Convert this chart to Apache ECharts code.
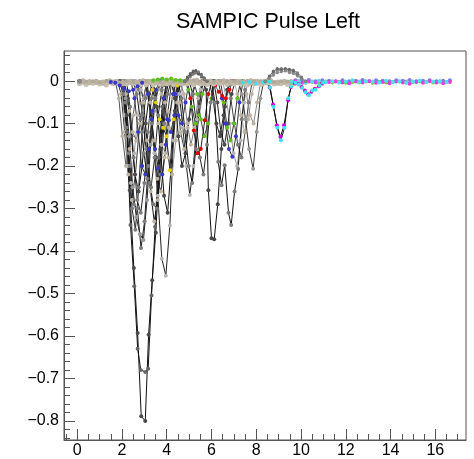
<!DOCTYPE html>
<html><head><meta charset="utf-8">
<script src="https://cdn.jsdelivr.net/npm/echarts@6/dist/echarts.min.js"></script>
<style>html,body{margin:0;padding:0;background:#fff}#c{width:474px;height:459px}</style>
</head><body><div id="c"></div>
<script>
// ---- tick labels ----
const xMajor = [0, 2, 4, 6, 8, 10, 12, 14, 16];
const xMinor = [-0.5, 0.5, 1, 1.5, 2.5, 3, 3.5, 4.5, 5, 5.5, 6.5, 7, 7.5, 8.5, 9, 9.5, 10.5, 11, 11.5, 12.5, 13, 13.5, 14.5, 15, 15.5, 16.5, 17];
const yMajor = [-0.8, -0.7, -0.6, -0.5, -0.4, -0.3, -0.2, -0.1, 0];
const yMinor = [-0.84, -0.82, -0.78, -0.76, -0.74, -0.72, -0.68, -0.66, -0.64, -0.62, -0.58, -0.56, -0.54, -0.52, -0.48, -0.46, -0.44, -0.42, -0.38, -0.36, -0.34, -0.32, -0.28, -0.26, -0.24, -0.22, -0.18, -0.16, -0.14, -0.12, -0.08, -0.06, -0.04, -0.02, 0.02, 0.04, 0.06];

// ---- baseline traces ----
const baseTa = [0.1,0.4,0.7,1.0,1.3,1.6,1.9,2.2,2.5,2.8,3.1,3.4,3.7,4.0,4.3,4.6,4.9,5.2,5.5,5.8,6.1,6.4,6.7,7.0,7.3,7.6,7.9,8.2,8.5,8.8,9.1,9.4,9.7];
const baseTb = [0.25,0.55,0.85,1.15,1.45,1.75,2.05,2.35,2.65,2.95,3.25,3.55,3.85,4.15,4.45,4.75,5.05,5.35,5.65,5.95,6.25,6.55,6.85,7.15,7.45,7.75,8.05,8.35,8.65,8.95,9.25,9.55,9.85];
const base1 = [-0.002,-0.004,-0.003,-0.005,-0.002,-0.004,-0.006,-0.003,-0.005,-0.002,-0.004,-0.003,-0.006,-0.004,-0.002,-0.005,-0.003,-0.004,-0.006,-0.002,-0.004,-0.003,-0.005,-0.004,-0.002,-0.005,-0.003,-0.004,-0.002,-0.005,-0.003,-0.004,-0.003];
const base2 = [0.001,-0.001,0.0,-0.002,0.001,-0.001,-0.003,0.0,-0.002,0.001,-0.001,0.0,-0.002,0.001,-0.001,-0.002,0.0,0.002,-0.001,0.0,-0.002,0.001,-0.001,0.0,-0.002,0.001,0.0,-0.001,0.001,-0.002,0.0,-0.001,0.0];
const base3 = [-0.006,-0.008,-0.005,-0.007,-0.009,-0.006,-0.008,-0.007,-0.005,-0.008,-0.006,-0.009,-0.007,-0.006,-0.008,-0.005,-0.007,-0.009,-0.006,-0.008,-0.007,-0.005,-0.008,-0.006,-0.007,-0.009,-0.006,-0.008,-0.005,-0.007,-0.006,-0.008,-0.006];

// ---- tail traces ----
const tailTa = [9.6,9.9,10.2,10.5,10.8,11.1,11.4,11.7,12.0,12.3,12.6,12.9,13.2,13.5,13.8,14.1,14.4,14.7,15.0,15.3,15.6,15.9,16.2,16.5];
const tailTb = [9.75,10.05,10.35,10.65,10.95,11.25,11.55,11.85,12.15,12.45,12.75,13.05,13.35,13.65,13.95,14.25,14.55,14.85,15.15,15.45,15.75,16.05,16.35,16.65];
const tailCyan = [-0.002,0.0,-0.003,-0.001,0.001,-0.002,0.0,-0.003,-0.001,0.002,-0.002,0.0,-0.001,-0.003,0.001,-0.002,0.0,-0.004,-0.001,0.001,-0.002,-0.001,0.0,-0.002];
const tailMagenta = [0.0,-0.004,-0.001,-0.003,-0.006,-0.002,0.0,-0.003,-0.005,-0.001,-0.003,0.0,-0.004,-0.002,-0.005,-0.001,-0.003,-0.006,-0.002,-0.004,0.0,-0.003,-0.005,-0.002];
const tailGreen = [-0.003,-0.002,-0.004,-0.002,-0.003,-0.001,-0.003,-0.002,-0.004,-0.002,-0.003,-0.001,-0.004,-0.002,-0.003,-0.002,-0.001,-0.003,-0.002,-0.001,-0.002,-0.003,-0.001,-0.002];
const tailBlue = [0.002,0.001,0.003,0.0,0.002,0.001,-0.001,0.002,0.0,0.001,0.003,0.0,0.002,0.001,0.0,0.002,0.001,0.003,0.0,0.001,0.002,0.0,0.001,0.002];

// ---- pulses, cluster 1 ----
const p01t = [1.90,2.06,2.22,2.35,2.53,2.70,2.86,3.04,3.19,3.35,3.51,3.67,3.83,3.99];
const p01v = [0,-0.01,-0.08,-0.257,-0.44,-0.593,-0.789,-0.80,-0.597,-0.469,-0.357,-0.20,-0.07,-0.01];
const p02t = [1.90,2.06,2.22,2.38,2.55,2.70,2.84,3.04,3.17,3.32,3.48,3.64,3.80,3.96];
const p02v = [0,-0.02,-0.12,-0.339,-0.483,-0.63,-0.68,-0.685,-0.677,-0.505,-0.343,-0.18,-0.06,-0.01];
const p03t = [1.90,2.05,2.20,2.36,2.52,2.69,2.85,3.01,3.17,3.33,3.49,3.65,3.81];
const p03v = [0,-0.03,-0.11,-0.20,-0.29,-0.30,-0.393,-0.33,-0.20,-0.10,-0.04,-0.01,0];
const p04t = [2.00,2.16,2.32,2.48,2.64,2.80,2.96,3.12,3.28,3.44,3.60,3.76];
const p04v = [0,-0.04,-0.13,-0.25,-0.32,-0.36,-0.374,-0.28,-0.15,-0.07,-0.02,0];
const p05t = [3.00,3.15,3.30,3.45,3.60,3.78,3.96,4.14,4.30,4.46,4.62];
const p05v = [0,-0.03,-0.09,-0.17,-0.27,-0.418,-0.458,-0.34,-0.14,-0.03,0];
const p06t = [2.60,2.76,2.92,3.08,3.24,3.40,3.56,3.72,3.88,4.04,4.20];
const p06v = [0,-0.02,-0.08,-0.16,-0.24,-0.29,-0.30,-0.22,-0.10,-0.03,0];
const p07t = [1.80,1.96,2.12,2.28,2.44,2.60,2.76,2.92,3.08,3.24];
const p07v = [0,-0.03,-0.12,-0.22,-0.28,-0.22,-0.12,-0.05,-0.01,0];
const p08t = [2.50,2.66,2.82,2.98,3.14,3.30,3.46,3.62,3.78,3.94];
const p08v = [0,-0.03,-0.09,-0.17,-0.23,-0.25,-0.18,-0.08,-0.02,0];
const p09t = [3.00,3.16,3.32,3.48,3.62,3.80,3.96,4.09,4.28,4.44];
const p09v = [0,-0.03,-0.09,-0.16,-0.205,-0.22,-0.15,-0.092,-0.03,0];
const p10t = [3.20,3.36,3.52,3.68,3.84,3.99,4.14,4.30,4.46];
const p10v = [0,-0.02,-0.05,-0.09,-0.11,-0.13,-0.21,-0.09,-0.01];
const p11t = [1.70,1.86,2.02,2.18,2.34,2.50,2.66,2.82];
const p11v = [0,-0.04,-0.13,-0.20,-0.16,-0.08,-0.02,0];
const p12t = [2.00,2.15,2.30,2.45,2.60,2.75,2.90,3.05,3.20];
const p12v = [0,-0.05,-0.17,-0.30,-0.35,-0.25,-0.12,-0.04,0];
const p13t = [3.30,3.46,3.62,3.78,3.94,4.10,4.26,4.42];
const p13v = [0,-0.04,-0.10,-0.15,-0.17,-0.11,-0.04,0];
const p14t = [2.10,2.26,2.42,2.58,2.74,2.90,3.06,3.22,3.38];
const p14v = [0,-0.04,-0.13,-0.22,-0.26,-0.20,-0.10,-0.03,0];
const p15t = [3.60,3.76,3.92,4.08,4.24,4.40,4.56,4.72];
const p15v = [0,-0.03,-0.10,-0.18,-0.22,-0.14,-0.05,0];
const p16t = [2.20,2.36,2.52,2.68,2.84,3.00,3.16,3.32,3.48];
const p16v = [0,-0.06,-0.18,-0.28,-0.31,-0.24,-0.12,-0.04,0];
const p17t = [2.80,2.96,3.12,3.28,3.44,3.60,3.76,3.92,4.08];
const p17v = [0,-0.05,-0.14,-0.26,-0.33,-0.28,-0.15,-0.05,0];
const p18t = [3.40,3.56,3.72,3.88,4.04,4.20,4.36,4.52];
const p18v = [0,-0.06,-0.16,-0.27,-0.31,-0.20,-0.07,0];
const p19t = [1.95,2.10,2.25,2.40,2.55,2.70,2.85,3.00];
const p19v = [0,-0.08,-0.20,-0.24,-0.17,-0.08,-0.02,0];
const p20t = [2.40,2.56,2.72,2.88,3.04,3.20,3.36,3.52,3.68];
const p20v = [0,-0.04,-0.12,-0.20,-0.22,-0.16,-0.07,-0.02,0];
const p21t = [3.10,3.26,3.42,3.58,3.74,3.90,4.06,4.22];
const p21v = [0,-0.05,-0.14,-0.23,-0.26,-0.18,-0.07,0];
const p22t = [2.00,2.16,2.32,2.48,2.64,2.80,2.96,3.12];
const p22v = [0,-0.03,-0.07,-0.12,-0.14,-0.10,-0.04,0];
const p23t = [3.70,3.86,4.02,4.18,4.34,4.50,4.66];
const p23v = [0,-0.04,-0.09,-0.12,-0.08,-0.03,0];

// ---- pulses, cluster 2 ----
const q01t = [4.40,4.56,4.72,4.88,5.03,5.19,5.35,5.51,5.67];
const q01v = [0,-0.03,-0.11,-0.20,-0.268,-0.20,-0.09,-0.02,0];
const q02t = [4.90,5.06,5.21,5.37,5.52,5.70,5.86,6.02];
const q02v = [0,-0.04,-0.116,-0.17,-0.16,-0.092,-0.03,0];
const q03t = [4.80,4.96,5.12,5.28,5.44,5.60,5.76];
const q03v = [0,-0.02,-0.06,-0.10,-0.08,-0.03,0];
const q04t = [4.20,4.36,4.52,4.68,4.84,5.00,5.16,5.32];
const q04v = [0,-0.04,-0.13,-0.20,-0.17,-0.09,-0.03,0];
const q05t = [4.60,4.76,4.92,5.08,5.24,5.40,5.56];
const q05v = [0,-0.03,-0.10,-0.15,-0.11,-0.04,0];
const q06t = [4.20,4.36,4.52,4.68,4.84,5.00];
const q06v = [0,-0.03,-0.08,-0.10,-0.05,0];
const q07t = [5.00,5.16,5.32,5.48,5.64,5.80,5.96,6.12];
const q07v = [0,-0.03,-0.10,-0.18,-0.22,-0.15,-0.05,0];
const q08t = [4.50,4.66,4.82,4.98,5.14,5.30,5.46,5.62];
const q08v = [0,-0.04,-0.12,-0.20,-0.24,-0.16,-0.06,0];
const q09t = [5.20,5.36,5.52,5.68,5.84,6.00,6.16];
const q09v = [0,-0.03,-0.09,-0.13,-0.10,-0.04,0];
const q10t = [4.30,4.46,4.62,4.78,4.94,5.10,5.26];
const q10v = [0,-0.05,-0.12,-0.16,-0.11,-0.04,0];

// ---- pulses, cluster 3 ----
const r01t = [5.60,5.76,5.86,6.00,6.12,6.28,6.44,6.60,6.76];
const r01v = [0,-0.02,-0.257,-0.37,-0.372,-0.29,-0.16,-0.06,-0.01];
const r02t = [6.00,6.15,6.30,6.45,6.59,6.76,6.88,7.03,7.19,7.35,7.50];
const r02v = [0,-0.05,-0.19,-0.245,-0.198,-0.31,-0.339,-0.26,-0.207,-0.09,-0.02];
const r03t = [6.30,6.46,6.62,6.78,6.93,7.09,7.25,7.41];
const r03v = [0,-0.04,-0.10,-0.16,-0.178,-0.13,-0.05,0];
const r04t = [7.20,7.36,7.52,7.68,7.86,8.02,8.18,8.34];
const r04v = [0,-0.03,-0.09,-0.16,-0.206,-0.12,-0.04,0];
const r05t = [6.40,6.55,6.70,6.85,7.00,7.15,7.30];
const r05v = [0,-0.05,-0.11,-0.14,-0.10,-0.04,0];
const r06t = [6.10,6.26,6.42,6.58,6.74,6.90,7.06];
const r06v = [0,-0.05,-0.12,-0.15,-0.10,-0.03,0];
const r07t = [7.00,7.16,7.32,7.48,7.64,7.80,7.96];
const r07v = [0,-0.03,-0.08,-0.12,-0.09,-0.03,0];
const r08t = [6.00,6.16,6.32,6.48,6.64,6.80,6.96];
const r08v = [0,-0.01,-0.025,-0.035,-0.04,-0.02,0];
const r09t = [6.70,6.86,7.02,7.18,7.34,7.50,7.66,7.82];
const r09v = [0,-0.04,-0.10,-0.15,-0.18,-0.12,-0.05,0];
const r10t = [6.50,6.66,6.82,6.98,7.14,7.30,7.46,7.62];
const r10v = [0,-0.04,-0.10,-0.17,-0.20,-0.14,-0.05,0];
const r11t = [7.40,7.56,7.72,7.88,8.04,8.20];
const r11v = [0,-0.03,-0.08,-0.10,-0.05,0];
const r12t = [5.90,6.06,6.22,6.38,6.54,6.70,6.86];
const r12v = [0,-0.04,-0.10,-0.13,-0.08,-0.02,0];

// ---- late pulses ----
const s01t = [8.45,8.60,8.75,8.92,9.08,9.24,9.42,9.55,9.72];
const s01v = [0,-0.015,-0.055,-0.104,-0.131,-0.104,-0.045,-0.014,-0.005];
const s02t = [8.47,8.62,8.77,8.94,9.10,9.26,9.43,9.57,9.74];
const s02v = [0,-0.015,-0.06,-0.11,-0.139,-0.11,-0.04,-0.012,-0.004];
const s03t = [9.72,9.87,10.02,10.17,10.32,10.47,10.62,10.80,10.95];
const s03v = [-0.005,-0.006,-0.014,-0.022,-0.031,-0.025,-0.018,-0.012,-0.004];
const s04t = [9.75,9.90,10.05,10.20,10.35,10.50,10.65,10.82,10.98];
const s04v = [-0.004,-0.008,-0.016,-0.026,-0.033,-0.022,-0.02,-0.01,-0.003];

// ---- positive bumps ----
const b1t = [4.80,4.92,5.05,5.18,5.30,5.42,5.55,5.68,5.80];
const b1v = [0,0.010,0.018,0.024,0.022,0.020,0.016,0.008,0];
const b2v = [0,0.006,0.014,0.020,0.025,0.017,0.010,0.004,0];
const b6v = [0,0.004,0.010,0.016,0.019,0.022,0.012,0.005,0];
const b3t = [8.40,8.58,8.76,8.94,9.12,9.30,9.48,9.66,9.84,10.02,10.20];
const b3v = [0,0.010,0.024,0.028,0.030,0.027,0.028,0.026,0.020,0.010,0];
const b4v = [0,0.008,0.018,0.024,0.026,0.028,0.023,0.021,0.016,0.008,0];
const b5v = [0,0.012,0.022,0.030,0.026,0.030,0.027,0.024,0.014,0.006,0];
const b7v = [0,0.006,0.014,0.020,0.022,0.024,0.020,0.018,0.012,0.004,0];

// ---- coloured baseline pieces ----
const c1t = [1.50,1.70,1.90,2.10,2.30,2.50,2.70,2.90];
const c1v = [-0.002,-0.004,-0.010,-0.018,-0.024,-0.020,-0.012,-0.004];
const c2t = [3.40,3.60,3.80,4.00,4.20,4.40,4.60,4.80];
const c2v = [0.002,0.004,0.006,0.004,0.006,0.003,0.002,0];
const c3t = [7.40,7.70,8.00,8.30,8.60];
const c3v = [-0.004,-0.002,-0.006,-0.003,-0.001];

// ---- build ----
const BEIGE = '#bdb3a2', DARK = '#4a4a4a', GRAY = '#7d7d7d', LIGHT = '#b5b5b5';
const BLUE = '#3838c8', YEL = '#e6d200', GRN = '#60c020', RED = '#e00000';
const series = [];
function add(t, v, line, mark, size, lw) {
  series.push({
    type: 'line', xAxisIndex: 0, yAxisIndex: 0,
    data: t.map((x, i) => [x, v[i]]),
    symbol: 'circle', symbolSize: size || 4, showSymbol: true, showAllSymbol: true,
    lineStyle: { color: line, width: lw || 1 },
    itemStyle: { color: mark },
    silent: true, animation: false
  });
}
// pulses
add(p05t, p05v, '#222', LIGHT); add(p13t, p13v, '#aaa', BEIGE); add(p15t, p15v, '#999', BEIGE);
add(p07t, p07v, '#333', BEIGE); add(p11t, p11v, '#555', BEIGE); add(p06t, p06v, '#222', GRAY);
add(p19t, p19v, '#999', LIGHT); add(p22t, p22v, '#666', BEIGE); add(p21t, p21v, '#333', BEIGE);
add(p16t, p16v, '#222', GRAY); add(p17t, p17v, '#111', BEIGE); add(p18t, p18v, '#111', DARK);
add(p08t, p08v, '#222', GRAY); add(p12t, p12v, '#222', GRAY); add(p14t, p14v, '#111', DARK);
add(p03t, p03v, '#222', GRAY); add(p04t, p04v, '#222', '#999');
add(p02t, p02v, '#111', '#666'); add(p01t, p01v, '#111', DARK);
add(p09t, p09v, '#222', BLUE); add(p20t, p20v, '#333', BLUE); add(p23t, p23v, '#444', BLUE);
add(p10t, p10v, '#222', YEL);
add(q01t, q01v, '#222', LIGHT); add(q04t, q04v, '#111', DARK); add(q05t, q05v, '#777', BEIGE);
add(q10t, q10v, '#444', BEIGE); add(q08t, q08v, '#111', GRAY);
add(q07t, q07v, '#222', GRAY); add(q06t, q06v, '#333', BLUE); add(q03t, q03v, '#333', GRN);
add(q09t, q09v, '#444', GRN); add(q02t, q02v, '#222', RED);
add(r09t, r09v, '#444', GRAY); add(r10t, r10v, '#999', LIGHT); add(r07t, r07v, '#aaa', BEIGE);
add(r11t, r11v, '#888', BEIGE); add(r12t, r12v, '#222', DARK); add(r06t, r06v, '#222', DARK);
add(r01t, r01v, '#111', DARK); add(r02t, r02v, '#111', GRAY); add(r04t, r04v, '#333', '#9a9a9a');
add(r05t, r05v, '#333', GRN); add(r03t, r03v, '#333', BLUE); add(r08t, r08v, '#555', RED);
add(s01t, s01v, '#111', '#d000d0'); add(s02t, s02v, '#111', '#40e0f0');
// baselines
add(baseTa, base1, BEIGE, BEIGE, 5); add(baseTb, base2, BEIGE, BEIGE, 5); add(baseTa, base3, '#c8c0b0', '#c8c0b0', 5);
add(baseTb, base1, BEIGE, BEIGE, 5); add(baseTa, base2, '#b0a898', '#b0a898', 4);
add(tailTa, tailGreen, '#70d040', '#70d040', 4); add(tailTb, tailBlue, '#8080e0', '#8080e0', 4);
add(tailTb, tailMagenta, '#e040e0', '#e040e0', 4); add(tailTa, tailCyan, '#50e0f0', '#50e0f0', 4);
add(s03t, s03v, '#e040e0', '#d000d0'); add(s04t, s04v, '#40e0f0', '#40e0f0');
add(c1t, c1v, '#6060d0', BLUE); add(c2t, c2v, GRN, GRN); add(c3t, c3v, '#40e0f0', '#40e0f0');
// bumps
add(b1t, b1v, '#666', '#666', 3); add(b1t, b2v, '#555', '#555', 3); add(b1t, b6v, '#777', '#777', 3);
add(b3t, b3v, '#888', '#777', 3); add(b3t, b4v, '#999', '#888', 3); add(b3t, b5v, '#777', '#666', 3); add(b3t, b7v, '#999', '#888', 3);
// starting point
add([0.1], [0.0], GRAY, '#888', 5);

const FONT = 'Liberation Sans';
const xMin = -0.59, xMax = 17.37, yMin = -0.845, yMax = 0.071;
const fmtY = v => (Math.abs(v) < 1e-9 ? '0' : '\u2212' + Math.abs(v).toFixed(1));
const chart = echarts.init(document.getElementById('c'), null, { renderer: 'canvas' });
chart.setOption({
  animation: false,
  backgroundColor: '#fff',
  title: { text: 'SAMPIC Pulse Left', left: 171, top: 6,
    textStyle: { fontFamily: FONT, fontSize: 21.5, fontWeight: 'normal', color: '#000' } },
  grid: { left: 64, top: 51, width: 402, height: 390, show: true, borderColor: '#555', borderWidth: 1, backgroundColor: 'transparent' },
  xAxis: [
    { type: 'value', min: xMin, max: xMax, position: 'bottom',
      axisLine: { show: true, onZero: false, lineStyle: { color: '#555' } },
      axisTick: { show: true, inside: true, length: 11, customValues: xMajor, lineStyle: { color: '#555' } },
      axisLabel: { show: true, customValues: xMajor, margin: 3, fontFamily: FONT, fontSize: 16, color: '#000' },
      splitLine: { show: false } },
    { type: 'value', min: xMin, max: xMax, position: 'bottom',
      axisLine: { show: false, onZero: false },
      axisTick: { show: true, inside: true, length: 6, customValues: xMinor, lineStyle: { color: '#555' } },
      axisLabel: { show: false }, splitLine: { show: false } }
  ],
  yAxis: [
    { type: 'value', min: yMin, max: yMax, position: 'left',
      axisLine: { show: true, onZero: false, lineStyle: { color: '#555' } },
      axisTick: { show: true, inside: true, length: 11, customValues: yMajor, lineStyle: { color: '#555' } },
      axisLabel: { show: true, customValues: yMajor, margin: 5, formatter: fmtY, fontFamily: FONT, fontSize: 16, color: '#000' },
      splitLine: { show: false } },
    { type: 'value', min: yMin, max: yMax, position: 'left',
      axisLine: { show: false, onZero: false },
      axisTick: { show: true, inside: true, length: 6, customValues: yMinor, lineStyle: { color: '#555' } },
      axisLabel: { show: false }, splitLine: { show: false } }
  ],
  series: series
});
</script>
</body></html>
